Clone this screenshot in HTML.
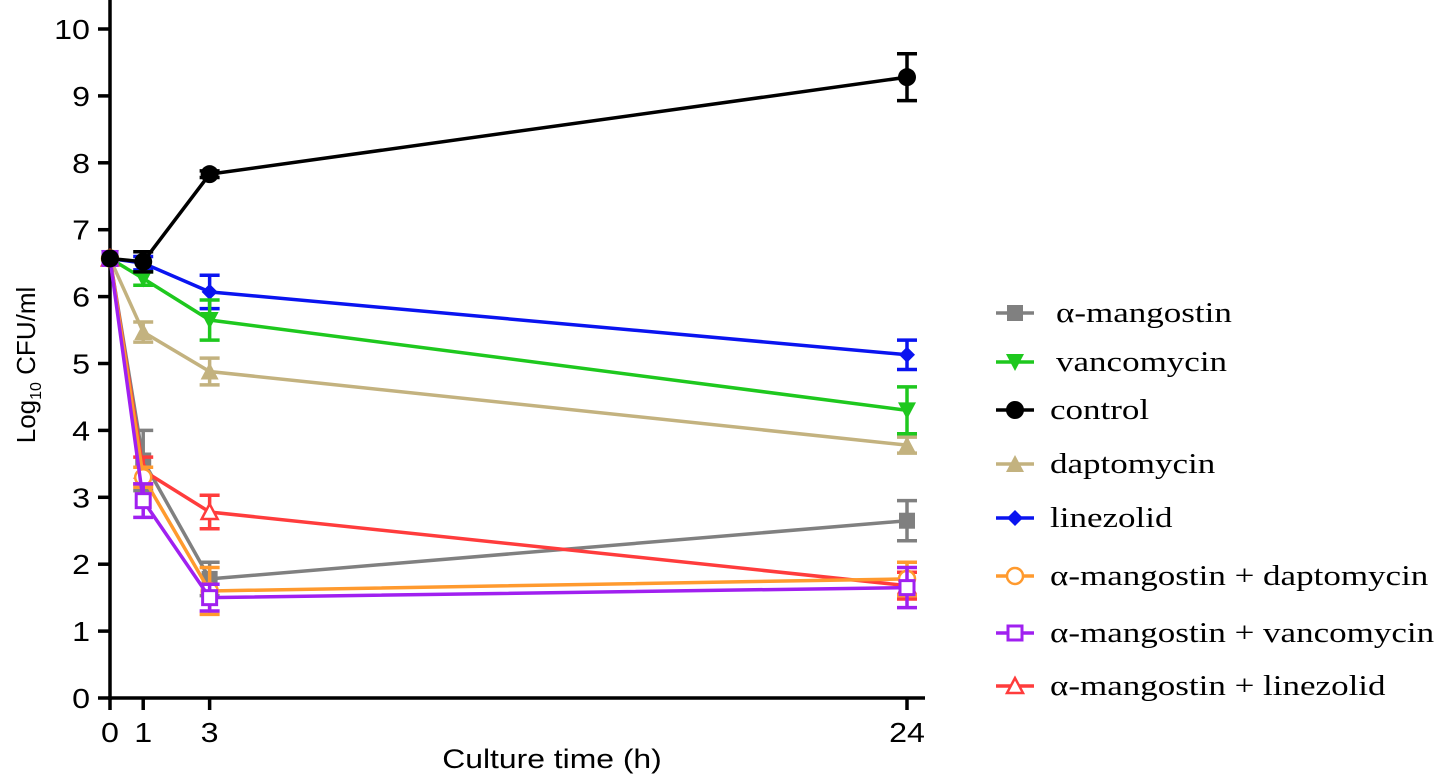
<!DOCTYPE html>
<html><head><meta charset="utf-8"><style>
body{margin:0;background:#fff;}
svg{display:block;font-family:"Liberation Sans",sans-serif;}
</style></head><body>
<svg id="c" width="1441" height="778"></svg>
<script>
const times=[0,1,3,24];
const seriesNames=["α-mangostin","vancomycin","control","daptomycin","linezolid","α-mangostin + daptomycin","α-mangostin + vancomycin","α-mangostin + linezolid"];
const seriesColors=["#808080","#1ec81e","#000000","#c3b27f","#0a14f0","#ff9a2e","#a020f0","#ff3c3c"];
const seriesMarkers=["sq","tri-down","circle","tri","diamond","open-circle","open-sq","open-tri"];
const valMang=[6.57,3.55,1.78,2.65];
const errMang=[0,0.45,0.25,0.3];
const valVanc=[6.57,6.27,5.65,4.3];
const errVanc=[0,0.1,0.3,0.35];
const valCtrl=[6.57,6.52,7.83,9.28];
const errCtrl=[0,0.15,0.05,0.35];
const valDapt=[6.57,5.47,4.88,3.78];
const errDapt=[0,0.15,0.2,0.12];
const valLin=[6.57,6.5,6.07,5.13];
const errLin=[0,0.1,0.25,0.22];
const valMD=[6.57,3.3,1.6,1.78];
const errMD=[0,0.15,0.35,0.25];
const valMV=[6.57,2.95,1.5,1.65];
const errMV=[0,0.25,0.2,0.3];
const valML=[6.57,3.4,2.78,1.68];
const errML=[0,0.2,0.25,0.2];
const yTicks=[0,1,2,3,4,5,6,7,8,9,10];
const xTicks=[0,1,3,24];
const allVals=[valMang,valVanc,valCtrl,valDapt,valLin,valMD,valMV,valML];
const allErrs=[errMang,errVanc,errCtrl,errDapt,errLin,errMD,errMV,errML];

const NS="http://www.w3.org/2000/svg";
const svg=document.getElementById('c');
const X=t=>110+t*(797/24);
const Y=v=>698-v*66.9;
function el(tag,attrs,parent){const e=document.createElementNS(NS,tag);for(const k in attrs)e.setAttribute(k,attrs[k]);(parent||svg).appendChild(e);return e;}
function stretch(t,f){const w=t.getComputedTextLength();t.setAttribute('textLength',w*f);t.setAttribute('lengthAdjust','spacingAndGlyphs');}
function marker(type,x,y,color,g){
  const s=8;
  if(type==="sq")el('rect',{x:x-s,y:y-s,width:2*s,height:2*s,fill:color},g);
  else if(type==="open-sq")el('rect',{x:x-s+1,y:y-s+1,width:2*s-2,height:2*s-2,fill:'#fff',stroke:color,'stroke-width':3},g);
  else if(type==="circle")el('circle',{cx:x,cy:y,r:s+1,fill:color},g);
  else if(type==="open-circle")el('circle',{cx:x,cy:y,r:s,fill:'#fff',stroke:color,'stroke-width':2.5},g);
  else if(type==="tri")el('polygon',{points:`${x},${y-s-1} ${x-s-1},${y+s} ${x+s+1},${y+s}`,fill:color},g);
  else if(type==="tri-down")el('polygon',{points:`${x},${y+s+1} ${x-s-1},${y-s} ${x+s+1},${y-s}`,fill:color},g);
  else if(type==="open-tri")el('polygon',{points:`${x},${y-s} ${x-s},${y+s-1} ${x+s},${y+s-1}`,fill:'#fff',stroke:color,'stroke-width':2.5},g);
  else if(type==="diamond")el('polygon',{points:`${x},${y-s} ${x-s},${y} ${x},${y+s} ${x+s},${y}`,fill:color},g);
}
const ax=el('g',{});


el('line',{x1:110,y1:0,x2:110,y2:700,stroke:'#000','stroke-width':3.5},ax);
el('line',{x1:108,y1:698,x2:925,y2:698,stroke:'#000','stroke-width':3.5},ax);
yTicks.forEach(v=>{
  el('line',{x1:98,y1:Y(v),x2:110,y2:Y(v),stroke:'#000','stroke-width':3.5},ax);
  const t=el('text',{x:90,y:Y(v)+10,'text-anchor':'end','font-size':28},ax);t.textContent=v;
  
  
  stretch(t,1.15);
});
xTicks.forEach(v=>{
  el('line',{x1:X(v),y1:698,x2:X(v),y2:710,stroke:'#000','stroke-width':3.5},ax);
  const t=el('text',{x:X(v),y:742,'text-anchor':'middle','font-size':28},ax);t.textContent=v;
  
  
  stretch(t,1.15);
});
const xt=el('text',{x:552,y:768,'text-anchor':'middle','font-size':27});
xt.textContent='Culture time (h)';


stretch(xt,1.18);
const yt=el('text',{transform:'translate(35,365) rotate(-90)','text-anchor':'middle','font-size':26});
yt.innerHTML='Log<tspan font-size="16" dy="6">10</tspan><tspan dy="-6"> CFU/ml</tspan>';


const order=[3,4,1,0,7,5,6,2];
order.forEach(i=>{
  const g=el('g',{});
  
  
  const c=seriesColors[i],vals=allVals[i],errs=allErrs[i];
  el('polyline',{points:times.map((t,j)=>X(t)+','+Y(vals[j])).join(' '),fill:'none',stroke:c,'stroke-width':3.5},g);
  times.forEach((t,j)=>{
    const x=X(t),e=errs[j];
    if(e>0){
      el('line',{x1:x,y1:Y(vals[j]-e),x2:x,y2:Y(vals[j]+e),stroke:c,'stroke-width':3.5},g);
      el('line',{x1:x-10,y1:Y(vals[j]+e),x2:x+10,y2:Y(vals[j]+e),stroke:c,'stroke-width':3.5},g);
      el('line',{x1:x-10,y1:Y(vals[j]-e),x2:x+10,y2:Y(vals[j]-e),stroke:c,'stroke-width':3.5},g);
    }
    marker(seriesMarkers[i],x,Y(vals[j]),c,g);
  });
});
const legY=[313,362,410,464,518,576,633,686];
seriesNames.forEach((n,i)=>{
  const g=el('g',{});
  
  
  el('line',{x1:996,y1:legY[i],x2:1034,y2:legY[i],stroke:seriesColors[i],'stroke-width':3.5},g);
  marker(seriesMarkers[i],1015,legY[i],seriesColors[i],g);
  const t=el('text',{x:i<2?1056:1050,y:legY[i]+9,'font-size':28,'font-family':'"Liberation Serif",serif'},g);
  t.textContent=n;
  stretch(t,1.25);
});
</script>
</body></html>
